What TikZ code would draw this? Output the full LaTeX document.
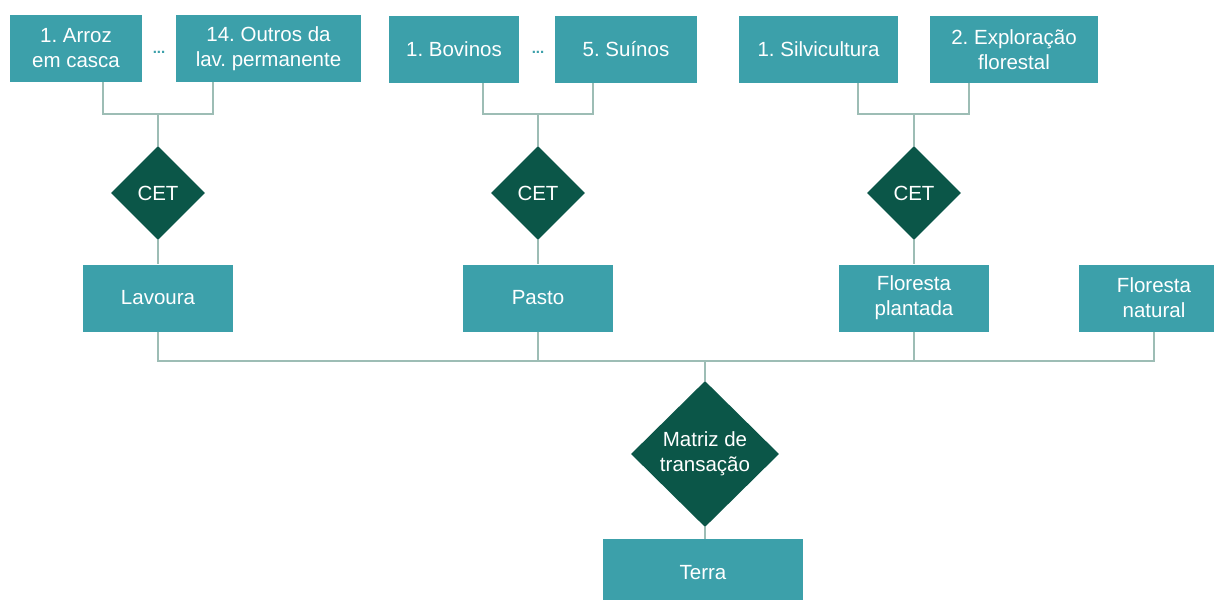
\documentclass[tikz,border=0pt]{standalone}
\usepackage{fontspec}
\setmainfont{Liberation Sans}
\frenchspacing
\usetikzlibrary{shapes.geometric,calc}
\definecolor{boxteal}{HTML}{3CA0AA}
\definecolor{darkgreen}{HTML}{0B5648}
\definecolor{linegray}{HTML}{9DBDB5}
\tikzset{
  box/.style={rectangle, fill=boxteal, text=white, align=center, inner sep=0pt,
    font=\fontsize{20.5}{25}\selectfont},
  dia/.style={diamond, fill=darkgreen, text=white, align=center, inner sep=0pt, aspect=1,
    font=\fontsize{20.5}{25}\selectfont},
  conn/.style={draw=linegray, line width=2.8pt},
  dots/.style={text=boxteal, font=\bfseries\fontsize{15}{16}\selectfont, inner sep=0pt}
}
\begin{document}
\begin{tikzpicture}[x=1pt,y=-1pt]
\useasboundingbox (0,0) rectangle (1214,599);
\clip (0,0) rectangle (1214,599);
% top row
\node[box, minimum width=132pt, minimum height=67pt] (arroz) at (76,48.5) {1. Arroz\\em casca};
\node[dots] (d1) at (159,52) {...};
\node[box, minimum width=185pt, minimum height=67pt] (outros) at (268.5,48.5) {14. Outros da\\lav. permanente};
\node[box, minimum width=130pt, minimum height=67pt] (bovinos) at (454,49.5) {1. Bovinos};
\node[dots] (d2) at (538,52) {...};
\node[box, minimum width=142pt, minimum height=67pt] (suinos) at (626,49.5) {5. Suínos};
\node[box, minimum width=159pt, minimum height=67pt] (silvi) at (818.5,49.5) {1. Silvicultura};
\node[box, minimum width=168pt, minimum height=67pt] (explo) at (1014,49.5) {2. Exploração\\florestal};
% junctions
\coordinate (a1) at (103,114); \coordinate (b1) at (213,114); \coordinate (j1) at (158,114);
\coordinate (a2) at (483,114); \coordinate (b2) at (593,114); \coordinate (j2) at (538,114);
\coordinate (a3) at (858,114); \coordinate (b3) at (969,114); \coordinate (j3) at (914,114);
% CET diamonds
\node[dia, minimum width=94pt, minimum height=94pt] (cet1) at (158,193) {CET};
\node[dia, minimum width=94pt, minimum height=94pt] (cet2) at (538,193) {CET};
\node[dia, minimum width=94pt, minimum height=94pt] (cet3) at (914,193) {CET};
% middle row
\node[box, minimum width=150pt, minimum height=67pt] (lavoura) at (158,298) {Lavoura};
\node[box, minimum width=150pt, minimum height=67pt] (pasto) at (538,298) {Pasto};
\node[box, minimum width=150pt, minimum height=67pt] (plantada) at (914,298) {Floresta\\plantada};
\node[box, minimum width=150pt, minimum height=67pt] (natural) at (1154,298) {Floresta\\natural};
\coordinate (bus) at (705,361);
% matrix
\node[dia, minimum width=148pt, minimum height=146pt] (matriz) at (705,454) {Matriz de\\transação};
\node[box, minimum width=200pt, minimum height=68pt] (terra) at (703,573) {Terra};
% connectors
\draw[conn] (arroz.south -| a1) -- (a1) -- (b1) -- (outros.south -| b1);
\draw[conn] (j1) -- (cet1.north);
\draw[conn] (bovinos.south -| a2) -- (a2) -- (b2) -- (suinos.south -| b2);
\draw[conn] (j2) -- (cet2.north);
\draw[conn] (silvi.south -| a3) -- (a3) -- (b3) -- (explo.south -| b3);
\draw[conn] (j3) -- (cet3.north);
\draw[conn] (cet1.south) -- (lavoura.north);
\draw[conn] (cet2.south) -- (pasto.north);
\draw[conn] (cet3.south) -- (plantada.north);
\draw[conn] (lavoura.south) -- (lavoura.south |- bus) -- (natural.south |- bus) -- (natural.south);
\draw[conn] (pasto.south) -- (pasto.south |- bus);
\draw[conn] (plantada.south) -- (plantada.south |- bus);
\draw[conn] (bus) -- (matriz.north);
\draw[conn] (matriz.south) -- (matriz.south |- terra.north);
\end{tikzpicture}
\end{document}
